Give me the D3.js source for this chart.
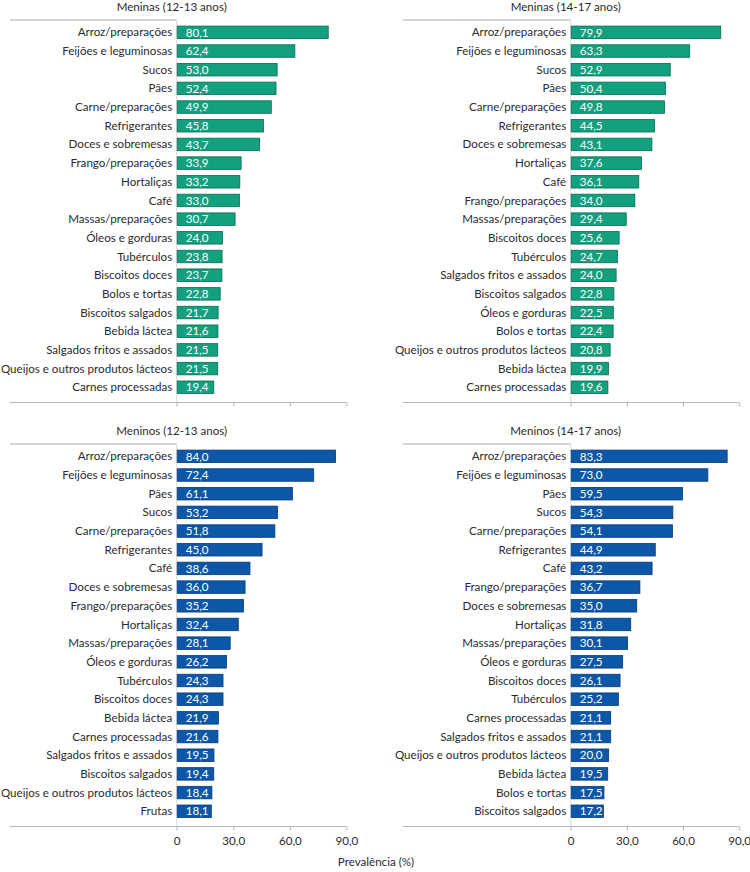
<!DOCTYPE html>
<html><head><meta charset="utf-8">
<script src="https://cdn.jsdelivr.net/npm/d3@7"></script>
<style>
body{margin:0;background:#fff;}
svg text{font-family:Lato,"Open Sans",sans-serif;fill:#2b2b2b;}
</style></head>
<body><svg id="c" width="750" height="872"></svg>
<script>
const titles = ["Meninas (12-13 anos)","Meninas (14-17 anos)","Meninos (12-13 anos)","Meninos (14-17 anos)"];
const catsGirls1213 = ["Arroz/preparações","Feijões e leguminosas","Sucos","Pães","Carne/preparações","Refrigerantes","Doces e sobremesas","Frango/preparações","Hortaliças","Café","Massas/preparações","Óleos e gorduras","Tubérculos","Biscoitos doces","Bolos e tortas","Biscoitos salgados","Bebida láctea","Salgados fritos e assados","Queijos e outros produtos lácteos","Carnes processadas"];
const valsGirls1213 = [80.1,62.4,53.0,52.4,49.9,45.8,43.7,33.9,33.2,33.0,30.7,24.0,23.8,23.7,22.8,21.7,21.6,21.5,21.5,19.4];
const catsGirls1417 = ["Arroz/preparações","Feijões e leguminosas","Sucos","Pães","Carne/preparações","Refrigerantes","Doces e sobremesas","Hortaliças","Café","Frango/preparações","Massas/preparações","Biscoitos doces","Tubérculos","Salgados fritos e assados","Biscoitos salgados","Óleos e gorduras","Bolos e tortas","Queijos e outros produtos lácteos","Bebida láctea","Carnes processadas"];
const valsGirls1417 = [79.9,63.3,52.9,50.4,49.8,44.5,43.1,37.6,36.1,34.0,29.4,25.6,24.7,24.0,22.8,22.5,22.4,20.8,19.9,19.6];
const catsBoys1213 = ["Arroz/preparações","Feijões e leguminosas","Pães","Sucos","Carne/preparações","Refrigerantes","Café","Doces e sobremesas","Frango/preparações","Hortaliças","Massas/preparações","Óleos e gorduras","Tubérculos","Biscoitos doces","Bebida láctea","Carnes processadas","Salgados fritos e assados","Biscoitos salgados","Queijos e outros produtos lácteos","Frutas"];
const valsBoys1213 = [84.0,72.4,61.1,53.2,51.8,45.0,38.6,36.0,35.2,32.4,28.1,26.2,24.3,24.3,21.9,21.6,19.5,19.4,18.4,18.1];
const catsBoys1417 = ["Arroz/preparações","Feijões e leguminosas","Pães","Sucos","Carne/preparações","Refrigerantes","Café","Frango/preparações","Doces e sobremesas","Hortaliças","Massas/preparações","Óleos e gorduras","Biscoitos doces","Tubérculos","Carnes processadas","Salgados fritos e assados","Queijos e outros produtos lácteos","Bebida láctea","Bolos e tortas","Biscoitos salgados"];
const valsBoys1417 = [83.3,73.0,59.5,54.3,54.1,44.9,43.2,36.7,35.0,31.8,30.1,27.5,26.1,25.2,21.1,21.1,20.0,19.5,17.5,17.2];
const tickValues = [0,30,60,90];
const tickLabels = ["0","30,0","60,0","90,0"];
const axisTitle = "Prevalência (%)";

const fmt = v => v.toFixed(1).replace(".", ",");
const svg = d3.select("#c");
const FS = 11.6;

const panels = [
  {cats:catsGirls1213, vals:valsGirls1213, title:titles[0], lx:10, x0:176.7, x1:346.4, top:0, fill:"#12a07e", stroke:"#0b6a53", labels:false},
  {cats:catsGirls1417, vals:valsGirls1417, title:titles[1], lx:403, x0:570.7, x1:739.2, top:0, fill:"#12a07e", stroke:"#0b6a53", labels:false},
  {cats:catsBoys1213, vals:valsBoys1213, title:titles[2], lx:10, x0:176.7, x1:346.4, top:424, fill:"#0d57a8", stroke:"#083b75", labels:true},
  {cats:catsBoys1417, vals:valsBoys1417, title:titles[3], lx:403, x0:570.7, x1:739.2, top:424, fill:"#0d57a8", stroke:"#083b75", labels:true}
];

panels.forEach(p => {
  const g = svg.append("g").attr("transform", `translate(0,${p.top})`);
  const x = d3.scaleLinear().domain([0,90]).range([p.x0, p.x1]);
  const y = d3.scaleBand().domain(p.cats).range([23, 396.6]).paddingInner(0.33).paddingOuter(0.165);
  const lineY = 20, axisY = 402.5;

  g.append("text").attr("x", p.x0 - 5).attr("y", 10.5).attr("text-anchor","middle")
    .attr("font-size", FS).text(p.title);

  g.append("line").attr("x1", p.lx).attr("x2", p.x0).attr("y1", lineY).attr("y2", lineY)
    .attr("stroke", "#c9c9c9").attr("stroke-width", 1.5);
  g.append("line").attr("x1", p.x0).attr("x2", p.x0).attr("y1", lineY).attr("y2", axisY)
    .attr("stroke", "#dcdcdc").attr("stroke-width", 1);

  const ax = g.append("g").attr("transform", `translate(0,${axisY})`)
    .call(d3.axisBottom(x).tickValues(tickValues).tickSize(4).tickFormat((d,i) => p.labels ? tickLabels[i] : ""));
  ax.select(".domain").remove();
  ax.selectAll(".tick line").attr("stroke", "#b5b5b5");
  ax.selectAll(".tick text").attr("font-size", FS).attr("font-family", "Lato").attr("fill", "#2b2b2b").attr("dy", "0.95em");
  g.append("line").attr("x1", p.lx).attr("x2", p.x1).attr("y1", axisY).attr("y2", axisY)
    .attr("stroke", "#b5b5b5").attr("stroke-width", 1);

  const data = p.cats.map((c,i) => ({c, v:p.vals[i]}));
  g.selectAll("rect.bar").data(data).enter().append("rect").attr("class","bar")
    .attr("x", x(0) + 0.5).attr("y", d => y(d.c))
    .attr("width", d => x(d.v) - x(0)).attr("height", y.bandwidth())
    .attr("fill", p.fill).attr("stroke", p.stroke).attr("stroke-width", 0.8);

  g.selectAll("text.cat").data(data).enter().append("text").attr("class","cat")
    .attr("x", p.x0 - 4.5).attr("y", d => y(d.c) + y.bandwidth()/2).attr("dy","0.35em")
    .attr("text-anchor","end").attr("font-size", FS).text(d => d.c);

  g.selectAll("text.val").data(data).enter().append("text").attr("class","val")
    .attr("x", p.x0 + 9).attr("y", d => y(d.c) + y.bandwidth()/2).attr("dy","0.36em")
    .attr("font-size", FS).style("fill", "#fff").text(d => fmt(d.v));
});

svg.append("text").attr("x", 376).attr("y", 866).attr("text-anchor","middle")
  .attr("font-size", FS).text(axisTitle);
</script></body></html>
